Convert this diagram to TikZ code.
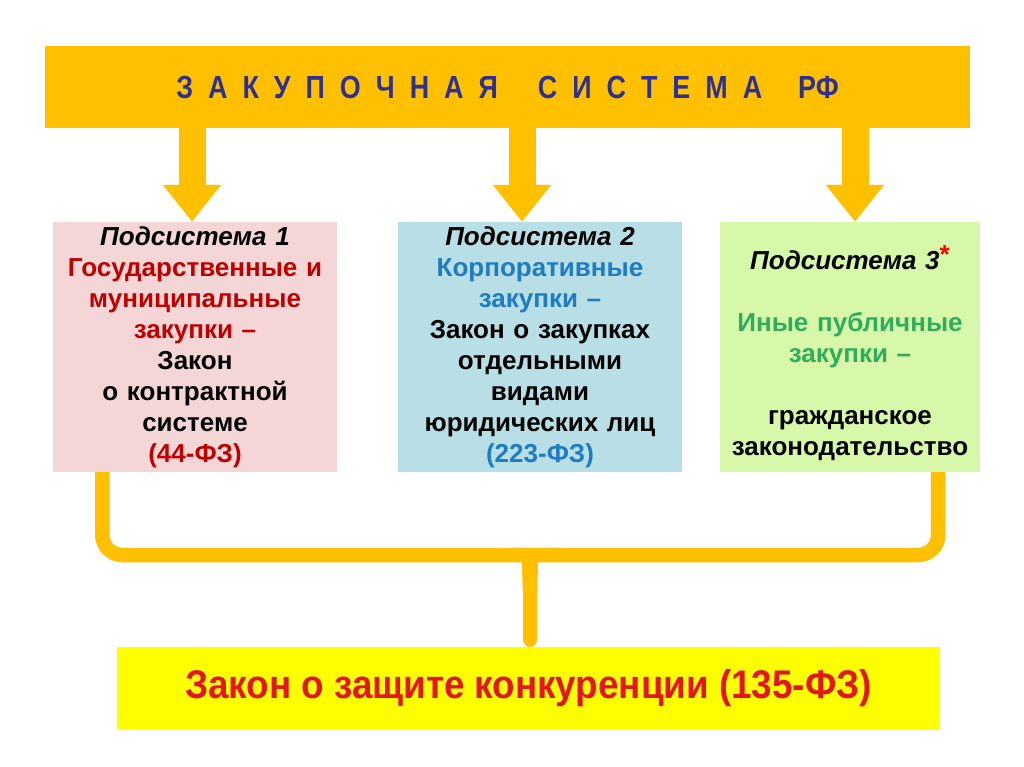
\documentclass[tikz,border=0pt]{standalone}
\usepackage{fontspec}
\setmainfont{Liberation Sans}
\newfontfamily\narrowfont[FakeStretch=0.84]{Liberation Sans}
\newfontfamily\lawfont[FakeStretch=0.92]{Liberation Sans}
\usetikzlibrary{positioning, arrows.meta}
\definecolor{barorange}{HTML}{FFC000}
\definecolor{titleblue}{HTML}{2E3192}
\definecolor{boxpink}{HTML}{F5D6D6}
\definecolor{boxblue}{HTML}{B9DFE6}
\definecolor{boxgreen}{HTML}{D6F8A8}
\definecolor{txtred}{HTML}{C00000}
\definecolor{txtblue}{HTML}{1E7BC4}
\definecolor{txtgreen}{HTML}{2EAD5B}
\definecolor{lawyellow}{HTML}{FFFF00}
\definecolor{lawred}{HTML}{E2161B}

\begin{document}
\begin{tikzpicture}[x=1pt, y=-1pt,
    subbox/.style={minimum width=284pt, minimum height=250pt, inner sep=0pt,
      align=center, text width=282pt, font=\fontsize{26}{31}\selectfont\bfseries},
    downarrow/.style={barorange, line width=27pt, -{Triangle[width=56pt,length=37pt]}},
    bracket/.style={barorange, line width=14.5pt}]
  \useasboundingbox[fill=white] (0,0) rectangle (1024,767);
  % header
  \node[fill=barorange, minimum width=925pt, minimum height=82pt, inner sep=0pt,
    text=titleblue, font=\narrowfont\fontsize{32}{32}\selectfont\bfseries] (title) at (507.5,87)
    {\spaceskip=15pt\relax З А К У П О Ч Н А Я\hspace{40pt}С И С Т Е М А\hspace{36pt}РФ};
  % subsystems
  \node[subbox, fill=boxpink] (sub1) at (195,347)
    {\textit{Подсистема 1}\\
     \textcolor{txtred}{Государственные и\\ муниципальные\\ закупки –}\\
     Закон\\ о контрактной\\ системе\\
     \textcolor{txtred}{(44-ФЗ)}};
  \node[subbox, fill=boxblue] (sub2) at (540,347)
    {\textit{Подсистема 2}\\
     \textcolor{txtblue}{Корпоративные\\ закупки –}\\
     Закон о закупках\\ отдельными\\ видами\\ юридических лиц\\
     \textcolor{txtblue}{(223-ФЗ)}};
  \node[subbox, fill=boxgreen, minimum width=260pt, text width=258pt] (sub3) at (850,347)
    {\rule{0pt}{36pt}\textit{Подсистема 3}\raisebox{6pt}{\textcolor{red}{*}}\\[31pt]
     \textcolor{txtgreen}{Иные публичные\\ закупки –}\\[31pt]
     гражданское\\ законодательство};
  % common law
  \node[fill=lawyellow, minimum width=823pt, minimum height=83pt, inner sep=0pt,
    text=lawred, font=\lawfont\fontsize{40}{40}\selectfont\bfseries] (law) at (528.5,688.5)
    {Закон о защите конкуренции (135-ФЗ)};
  % arrows
  \coordinate (in1) at ([xshift=-3pt]sub1.north);
  \coordinate (in2) at ([xshift=-18pt]sub2.north);
  \coordinate (in3) at ([xshift=5pt]sub3.north);
  \foreach \i in {1,2,3}
    \draw[downarrow] (title.south -| in\i) -- (in\i);
  % brace
  \coordinate (joint) at (530,590);
  \draw[bracket, line cap=round] (joint) -- ([yshift=7pt]law.north -| joint);
  \draw[bracket] ([xshift=49.5pt]sub1.south west) [rounded corners=20pt] |- (512,555)
    [sharp corners] to[out=0, in=90] (joint);
  \draw[bracket] ([xshift=-42pt]sub3.south east) [rounded corners=20pt] |- (548,555)
    [sharp corners] to[out=180, in=90] (joint);
\end{tikzpicture}
\end{document}
